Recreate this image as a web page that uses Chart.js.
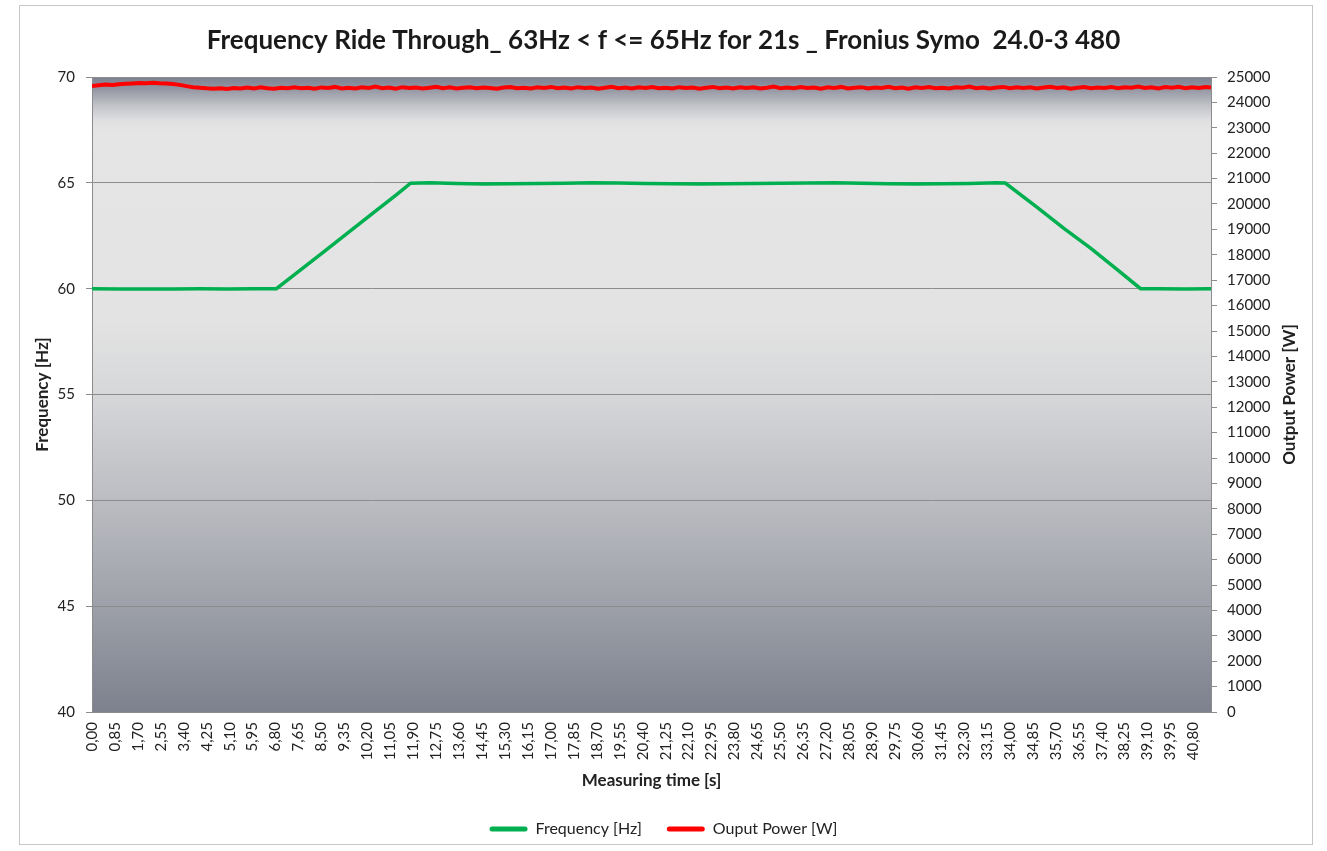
<!DOCTYPE html>
<html>
<head>
<meta charset="utf-8">
<script src="https://cdn.jsdelivr.net/npm/chart.js@4.4.1/dist/chart.umd.min.js"></script>
<style>
  html, body { margin: 0; padding: 0; background: #ffffff; }
  #wrap { position: relative; width: 1327px; height: 851px; overflow: hidden; }
  #frame { position: absolute; left: 19px; top: 5px; width: 1294px; height: 840px; border: 1px solid #c6c6c6; box-sizing: border-box; pointer-events: none; }
  canvas { position: absolute; left: 0; top: 0; }
</style>
</head>
<body>
<div id="wrap">
  <canvas id="c" width="1327" height="851"></canvas>
  <div id="frame"></div>
</div>
<script>
const chartTitle = 'Frequency Ride Through_ 63Hz < f <= 65Hz for 21s _ Fronius Symo  24.0-3 480';
const xAxisTitle = 'Measuring time [s]';
const yLeftTitle = 'Frequency [Hz]';
const yRightTitle = 'Output Power [W]';
const seriesNames = ['Frequency [Hz]', 'Ouput Power [W]'];

const xTickLabels = ['0,00','0,85','1,70','2,55','3,40','4,25','5,10','5,95','6,80','7,65','8,50','9,35',
  '10,20','11,05','11,90','12,75','13,60','14,45','15,30','16,15','17,00','17,85','18,70','19,55',
  '20,40','21,25','22,10','22,95','23,80','24,65','25,50','26,35','27,20','28,05','28,90','29,75',
  '30,60','31,45','32,30','33,15','34,00','34,85','35,70','36,55','37,40','38,25','39,10','39,95','40,80'];

// Frequency series: time [s] and value [Hz]
const freqTime = [0, 1, 2, 3, 4, 5, 6, 6.83, 7.5, 8.5, 9.5, 10.5, 11.2, 11.5, 11.8, 12.5, 13.5, 14.5, 15.5,
  16.5, 17.5, 18.5, 19.5, 20.5, 21.5, 22.5, 23.5, 24.5, 25.5, 26.5, 27.5, 28.5, 29.5, 30.5, 31.5,
  32.5, 33.5, 33.83, 35, 36, 37, 38, 38.84, 39.5, 40.5, 41.45];
const freqHz = [60.00, 59.99, 59.98, 59.99, 60.00, 59.99, 60.00, 60.00, 60.66, 61.66, 62.66, 63.66, 64.36, 64.67, 64.98, 65.00, 64.97, 64.95, 64.96,
  64.97, 64.98, 65.00, 64.99, 64.97, 64.96, 64.95, 64.96, 64.97, 64.98, 64.99, 65.00, 64.98, 64.96, 64.95, 64.96,
  64.97, 65.00, 64.99, 63.85, 62.85, 61.9, 60.88, 60.00, 60.00, 59.99, 60.00];

// Output power series: time [s] and value [W]
const powerTime = [0,0.25,0.5,0.75,1,1.25,1.5,1.75,2,2.25,
  2.5,2.75,3,3.25,3.5,3.75,4,4.25,4.5,4.75,
  5,5.25,5.5,5.75,6,6.25,6.5,6.75,7,7.25,
  7.5,7.75,8,8.25,8.5,8.75,9,9.25,9.5,9.75,
  10,10.25,10.5,10.75,11,11.25,11.5,11.75,12,12.25,
  12.5,12.75,13,13.25,13.5,13.75,14,14.25,14.5,14.75,
  15,15.25,15.5,15.75,16,16.25,16.5,16.75,17,17.25,
  17.5,17.75,18,18.25,18.5,18.75,19,19.25,19.5,19.75,
  20,20.25,20.5,20.75,21,21.25,21.5,21.75,22,22.25,
  22.5,22.75,23,23.25,23.5,23.75,24,24.25,24.5,24.75,
  25,25.25,25.5,25.75,26,26.25,26.5,26.75,27,27.25,
  27.5,27.75,28,28.25,28.5,28.75,29,29.25,29.5,29.75,
  30,30.25,30.5,30.75,31,31.25,31.5,31.75,32,32.25,
  32.5,32.75,33,33.25,33.5,33.75,34,34.25,34.5,34.75,
  35,35.25,35.5,35.75,36,36.25,36.5,36.75,37,37.25,
  37.5,37.75,38,38.25,38.5,38.75,39,39.25,39.5,39.75,
  40,40.25,40.5,40.75,41,41.25,41.45];
const powerW = [24650,24675,24700,24690,24715,24730,24745,24760,24755,24770,
  24750,24740,24720,24690,24640,24600,24580,24555,24540,24560,
  24530,24570,24545,24585,24550,24595,24560,24540,24580,24555,
  24600,24560,24575,24535,24590,24565,24610,24550,24580,24545,
  24595,24570,24620,24555,24585,24540,24600,24565,24590,24550,
  24580,24615,24560,24595,24545,24575,24600,24555,24590,24570,
  24540,24585,24605,24560,24580,24550,24595,24570,24610,24555,
  24585,24545,24600,24565,24590,24540,24575,24615,24560,24585,
  24550,24595,24570,24605,24555,24580,24545,24600,24565,24590,
  24540,24580,24610,24560,24585,24550,24600,24570,24595,24545,
  24575,24620,24560,24590,24555,24605,24570,24585,24540,24595,
  24565,24610,24550,24580,24600,24545,24590,24570,24615,24555,
  24585,24540,24595,24565,24605,24560,24580,24550,24600,24575,
  24620,24560,24590,24545,24585,24610,24555,24595,24570,24600,
  24550,24585,24615,24565,24595,24540,24580,24605,24560,24590,
  24570,24610,24555,24600,24575,24620,24565,24595,24550,24605,
  24580,24615,24560,24600,24570,24610,24585];

const xTickValues = xTickLabels.map(s => parseFloat(s.replace(',', '.')));

const FONT = 'Lato';
const TEXT = '#222222';
const GRID = '#8c8c8c';

const bgPlugin = {
  id: 'plotBg',
  beforeDraw(chart) {
    const {ctx, chartArea: a} = chart;
    const g = ctx.createLinearGradient(0, a.top, 0, a.bottom);
    g.addColorStop(0.00, '#7b8090');
    g.addColorStop(0.02, '#9598a3');
    g.addColorStop(0.045, '#c1c3c8');
    g.addColorStop(0.068, '#dfdfe1');
    g.addColorStop(0.085, '#e5e5e5');
    g.addColorStop(0.38, '#e3e3e3');
    g.addColorStop(0.50, '#d6d7d9');
    g.addColorStop(0.67, '#babcc1');
    g.addColorStop(0.83, '#9ea1a9');
    g.addColorStop(1.00, '#7c818d');
    ctx.save();
    ctx.fillStyle = g;
    ctx.fillRect(a.left, a.top, a.right - a.left, a.bottom - a.top);
    ctx.restore();
  }
};

const rightTitlePlugin = {
  id: 'rightTitle',
  afterDraw(chart) {
    const s = chart.scales.y1;
    const {ctx, chartArea: a} = chart;
    ctx.save();
    ctx.font = 'bold 17px ' + FONT;
    ctx.fillStyle = TEXT;
    ctx.textAlign = 'center';
    ctx.textBaseline = 'middle';
    ctx.translate(s.left + 79, (a.top + a.bottom) / 2);
    ctx.rotate(-Math.PI / 2);
    ctx.fillText(yRightTitle, 0, 0);
    ctx.restore();
  }
};

new Chart(document.getElementById('c'), {
  type: 'line',
  data: {
    datasets: [
      {
        label: seriesNames[0],
        data: freqTime.map((t, i) => ({x: t, y: freqHz[i]})),
        borderColor: '#00b050',
        backgroundColor: '#00b050',
        borderWidth: 3.5,
        pointRadius: 0,
        tension: 0,
        yAxisID: 'y'
      },
      {
        label: seriesNames[1],
        data: powerTime.map((t, i) => ({x: t, y: powerW[i]})),
        borderColor: '#ff0000',
        backgroundColor: '#ff0000',
        borderWidth: 4,
        pointRadius: 0,
        tension: 0,
        yAxisID: 'y1'
      }
    ]
  },
  plugins: [bgPlugin, rightTitlePlugin],
  options: {
    responsive: false,
    animation: false,
    layout: { padding: { left: 20, right: 20, top: 0, bottom: 4 } },
    plugins: {
      title: {
        display: true,
        text: chartTitle,
        color: '#1a1a1a',
        font: { family: FONT, size: 26, weight: 'bold' },
        padding: { top: 25, bottom: 20.8 }
      },
      legend: {
        position: 'bottom',
        labels: {
          boxWidth: 38,
          boxHeight: 5,
          useBorderRadius: true,
          borderRadius: 2.5,
          padding: 25,
          color: TEXT,
          font: { family: FONT, size: 16 },
          generateLabels(chart) {
            const items = Chart.defaults.plugins.legend.labels.generateLabels(chart);
            items.forEach(it => { it.lineWidth = 0; });
            return items;
          }
        }
      },
      tooltip: { enabled: false }
    },
    scales: {
      x: {
        type: 'linear',
        min: 0,
        max: 41.45,
        afterBuildTicks(scale) { scale.ticks = xTickValues.map(v => ({value: v})); },
        afterFit(scale) { scale.height = 84; },
        ticks: {
          autoSkip: false,
          maxRotation: 90,
          minRotation: 90,
          padding: 10,
          color: TEXT,
          font: { family: FONT, size: 15 },
          callback: (v, i) => xTickLabels[i]
        },
        grid: { display: false, drawTicks: false },
        border: { display: true, color: GRID, width: 1 },
        title: {
          display: true,
          text: xAxisTitle,
          color: TEXT,
          font: { family: FONT, size: 17, weight: 'bold' },
          padding: { top: 0, bottom: 5 }
        }
      },
      y: {
        position: 'left',
        min: 40,
        max: 70,
        afterFit(scale) { scale.width = 72; },
        ticks: { stepSize: 5, padding: 11, color: TEXT, font: { family: FONT, size: 15 } },
        grid: { color: GRID, tickLength: 6, lineWidth: 1 },
        border: { display: true, color: GRID, width: 1 },
        title: {
          display: true,
          text: yLeftTitle,
          color: TEXT,
          font: { family: FONT, size: 17, weight: 'bold' },
          padding: { top: 12, bottom: 0 }
        }
      },
      y1: {
        position: 'right',
        min: 0,
        max: 25000,
        afterFit(scale) { scale.width = 96; },
        ticks: { stepSize: 1000, padding: 10, color: TEXT, font: { family: FONT, size: 15 },
          callback: v => String(v) },
        grid: { drawOnChartArea: false, color: GRID, tickLength: 6 },
        border: { display: true, color: GRID, width: 1 }
      }
    }
  }
});
</script>
</body>
</html>
